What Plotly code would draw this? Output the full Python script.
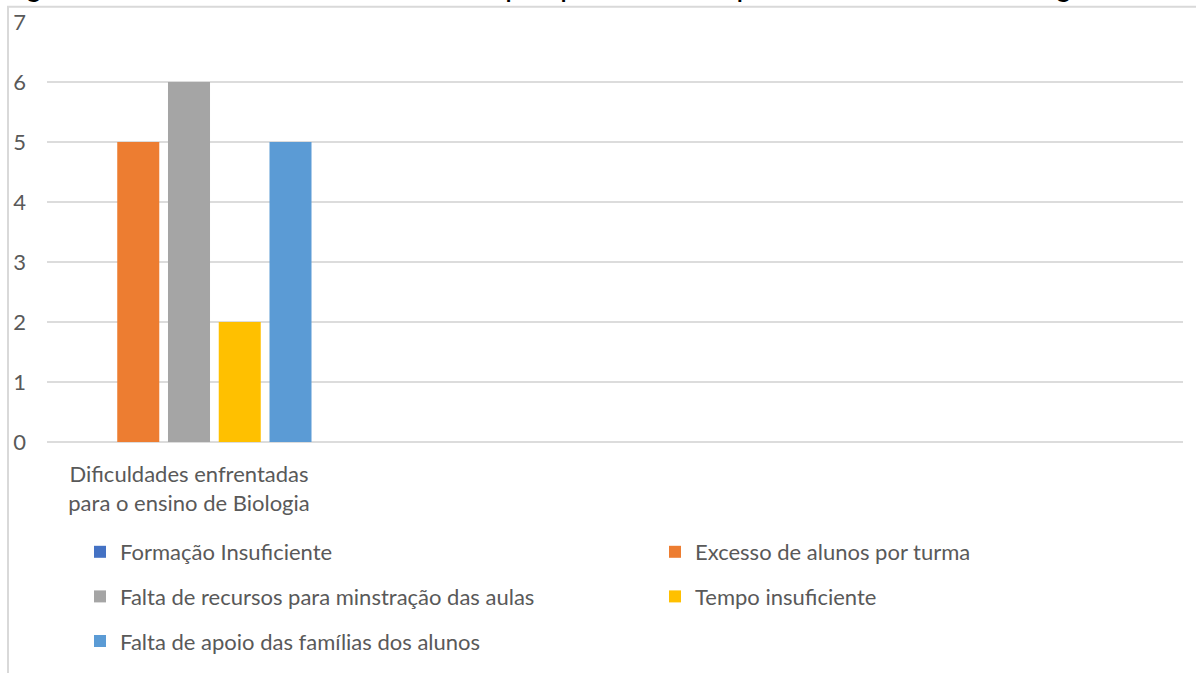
import plotly.graph_objects as go

# ---- data ----
categories = ["Dificuldades enfrentadas para o ensino de Biologia"]
category_labels = ["Dificuldades enfrentadas<br>para o ensino de Biologia"]

formacao_insuficiente = [0]
excesso_alunos = [5]
falta_recursos = [6]
tempo_insuficiente = [2]
falta_apoio_familias = [5]

series_names = [
    "Formação Insuficiente",
    "Excesso de alunos por turma",
    "Falta de recursos para minstração das aulas",
    "Tempo insuficiente",
    "Falta de apoio das famílias dos alunos",
]
y_ticks = [0, 1, 2, 3, 4, 5, 6, 7]
title_text = "Figura 3 - Dificuldades enfrentadas por professores para o ensino de Biologia"

# ---- styles ----
colors = ["#4472c4", "#ed7d31", "#a5a5a5", "#ffc000", "#5b9bd5"]
legend_of = ["legend", "legend2", "legend", "legend2", "legend"]
FONT = "Lato, Open Sans, sans-serif"
TXT = "#595959"
FS = 22

W, H = 1196, 673
ML, MR, MT, MB = 47, 13, 22, 231
PW, PH = W - ML - MR, H - MT - MB

def px_x(p):
    return (p - ML) / PW

def px_y(p):
    return (H - MB - p) / PH

fig = go.Figure()
values = [formacao_insuficiente, excesso_alunos, falta_recursos, tempo_insuficiente, falta_apoio_familias]
for name, vals, col, lg in zip(series_names, values, colors, legend_of):
    fig.add_trace(go.Bar(
        x=categories, y=vals, name=name,
        marker=dict(color=col, line=dict(width=0)),
        legend=lg, legendgroup=name,
    ))

fig.update_layout(
    width=W, height=H, autosize=False,
    margin=dict(l=ML, r=MR, t=MT, b=MB, autoexpand=False),
    paper_bgcolor="white", plot_bgcolor="white",
    barmode="group", bargap=0.1065, bargroupgap=0.172,
    font=dict(family=FONT, size=FS, color=TXT),
    showlegend=True,
    legend=dict(x=px_x(80), xanchor="left", y=px_y(531), yanchor="top",
                orientation="v", tracegroupgap=13, font=dict(size=FS, color=TXT),
                bgcolor="rgba(0,0,0,0)"),
    legend2=dict(x=px_x(655), xanchor="left", y=px_y(531), yanchor="top",
                 orientation="v", tracegroupgap=13, font=dict(size=FS, color=TXT),
                 bgcolor="rgba(0,0,0,0)"),
    xaxis=dict(type="category", range=[-0.5, 3.5], tickvals=categories,
               ticktext=category_labels, showgrid=False, showline=False,
               ticks="", ticklabelstandoff=17, tickfont=dict(size=FS, color=TXT)),
    yaxis=dict(range=[0, 7], tickvals=y_ticks, showgrid=True, gridcolor="#dcdcdc",
               gridwidth=2, zeroline=True, zerolinecolor="#dcdcdc", zerolinewidth=2,
               showline=False, ticks="", ticklabelstandoff=20,
               tickfont=dict(size=FS, color=TXT)),
    shapes=[dict(type="rect", xref="paper", yref="paper",
                 x0=px_x(8), x1=px_x(1210), y0=px_y(690), y1=px_y(6.7),
                 line=dict(color="#d9d9d9", width=2), fillcolor="rgba(0,0,0,0)",
                 layer="below")],
    annotations=[dict(text=title_text, xref="paper", yref="paper",
                      x=px_x(-4), xanchor="left", y=1, yanchor="bottom", yshift=18,
                      showarrow=False,
                      font=dict(family="Liberation Sans, Arial", size=32, color="black"))],
)

fig.write_html("out.html")
